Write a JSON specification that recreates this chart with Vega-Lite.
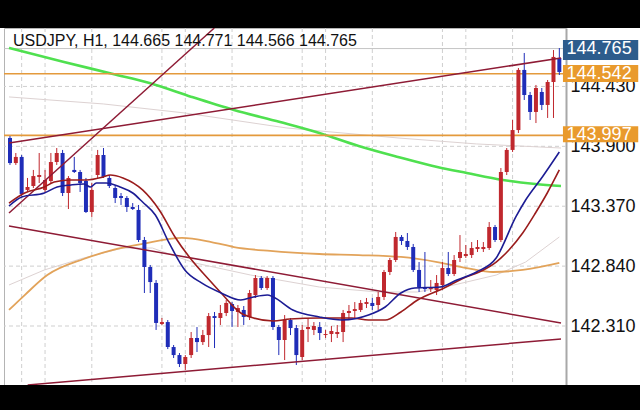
{
  "$schema": "https://vega.github.io/schema/vega-lite/v6.json",
  "width": 562,
  "height": 357,
  "autosize": {"type": "none"},
  "padding": {"left": 4, "right": 74, "top": 28, "bottom": 25},
  "background": "white",
  "view": {"fill": "white", "stroke": "#b4b4b4", "strokeWidth": 1},
  "config": {"font": "Liberation Sans"},
  "resolve": {"scale": {"x": "shared", "y": "shared"}, "axis": {"x": "independent", "y": "independent"}},
  "data": {"values": [{}]},
  "datasets": {
    "k": [
      {"i":0,"o":143.974,"h":143.991,"l":143.735,"c":143.752},
      {"i":1,"o":143.752,"h":143.841,"l":143.735,"c":143.806},
      {"i":2,"o":143.806,"h":143.823,"l":143.460,"c":143.478},
      {"i":3,"o":143.514,"h":143.620,"l":143.496,"c":143.540},
      {"i":4,"o":143.549,"h":143.691,"l":143.531,"c":143.637},
      {"i":5,"o":143.629,"h":143.841,"l":143.575,"c":143.646},
      {"i":6,"o":143.514,"h":143.691,"l":143.496,"c":143.602},
      {"i":7,"o":143.593,"h":143.841,"l":143.575,"c":143.761},
      {"i":8,"o":143.761,"h":143.885,"l":143.735,"c":143.841},
      {"i":9,"o":143.841,"h":143.868,"l":143.460,"c":143.487},
      {"i":10,"o":143.487,"h":143.637,"l":143.345,"c":143.620},
      {"i":11,"o":143.691,"h":143.806,"l":143.664,"c":143.673},
      {"i":12,"o":143.673,"h":143.691,"l":143.496,"c":143.575},
      {"i":13,"o":143.593,"h":143.620,"l":143.310,"c":143.319},
      {"i":14,"o":143.319,"h":143.575,"l":143.275,"c":143.514},
      {"i":15,"o":143.646,"h":143.868,"l":143.620,"c":143.823},
      {"i":16,"o":143.823,"h":143.885,"l":143.620,"c":143.629},
      {"i":17,"o":143.620,"h":143.646,"l":143.531,"c":143.549},
      {"i":18,"o":143.531,"h":143.558,"l":143.398,"c":143.443},
      {"i":19,"o":143.460,"h":143.487,"l":143.381,"c":143.443},
      {"i":20,"o":143.443,"h":143.460,"l":143.319,"c":143.363},
      {"i":21,"o":143.363,"h":143.398,"l":143.337,"c":143.345},
      {"i":22,"o":143.337,"h":143.381,"l":143.053,"c":143.071},
      {"i":23,"o":143.071,"h":143.098,"l":142.602,"c":142.832},
      {"i":24,"o":142.832,"h":142.850,"l":142.602,"c":142.699},
      {"i":25,"o":142.691,"h":142.717,"l":142.275,"c":142.337},
      {"i":26,"o":142.328,"h":142.381,"l":142.319,"c":142.345},
      {"i":27,"o":142.345,"h":142.363,"l":142.106,"c":142.124},
      {"i":28,"o":142.124,"h":142.142,"l":142.027,"c":142.053},
      {"i":29,"o":142.053,"h":142.071,"l":141.947,"c":141.974},
      {"i":30,"o":141.974,"h":142.053,"l":141.921,"c":142.036},
      {"i":31,"o":142.053,"h":142.257,"l":142.027,"c":142.204},
      {"i":32,"o":142.204,"h":142.301,"l":142.080,"c":142.168},
      {"i":33,"o":142.168,"h":142.275,"l":142.142,"c":142.230},
      {"i":34,"o":142.230,"h":142.425,"l":142.124,"c":142.398},
      {"i":35,"o":142.398,"h":142.434,"l":142.115,"c":142.381},
      {"i":36,"o":142.381,"h":142.496,"l":142.319,"c":142.425},
      {"i":37,"o":142.425,"h":142.540,"l":142.398,"c":142.514},
      {"i":38,"o":142.505,"h":142.522,"l":142.301,"c":142.443},
      {"i":39,"o":142.434,"h":142.496,"l":142.301,"c":142.469},
      {"i":40,"o":142.452,"h":142.487,"l":142.319,"c":142.390},
      {"i":41,"o":142.390,"h":142.629,"l":142.363,"c":142.602},
      {"i":42,"o":142.584,"h":142.761,"l":142.558,"c":142.735},
      {"i":43,"o":142.735,"h":142.752,"l":142.629,"c":142.646},
      {"i":44,"o":142.646,"h":142.752,"l":142.629,"c":142.735},
      {"i":45,"o":142.735,"h":142.752,"l":142.275,"c":142.301},
      {"i":46,"o":142.301,"h":142.319,"l":142.053,"c":142.186},
      {"i":47,"o":142.186,"h":142.407,"l":142.009,"c":142.363},
      {"i":48,"o":142.363,"h":142.381,"l":142.230,"c":142.292},
      {"i":49,"o":142.292,"h":142.319,"l":141.965,"c":142.053},
      {"i":50,"o":142.036,"h":142.319,"l":142.009,"c":142.275},
      {"i":51,"o":142.283,"h":142.381,"l":142.168,"c":142.301},
      {"i":52,"o":142.275,"h":142.345,"l":142.230,"c":142.310},
      {"i":53,"o":142.301,"h":142.345,"l":142.186,"c":142.248},
      {"i":54,"o":142.230,"h":142.275,"l":142.204,"c":142.239},
      {"i":55,"o":142.239,"h":142.310,"l":142.168,"c":142.266},
      {"i":56,"o":142.239,"h":142.319,"l":142.204,"c":142.257},
      {"i":57,"o":142.257,"h":142.452,"l":142.168,"c":142.425},
      {"i":58,"o":142.425,"h":142.496,"l":142.363,"c":142.443},
      {"i":59,"o":142.443,"h":142.522,"l":142.381,"c":142.460},
      {"i":60,"o":142.452,"h":142.540,"l":142.434,"c":142.514},
      {"i":61,"o":142.505,"h":142.558,"l":142.469,"c":142.522},
      {"i":62,"o":142.514,"h":142.558,"l":142.452,"c":142.487},
      {"i":63,"o":142.496,"h":142.611,"l":142.452,"c":142.567},
      {"i":64,"o":142.567,"h":142.806,"l":142.540,"c":142.788},
      {"i":65,"o":142.788,"h":142.912,"l":142.761,"c":142.894},
      {"i":66,"o":142.894,"h":143.142,"l":142.876,"c":143.098},
      {"i":67,"o":143.098,"h":143.115,"l":143.027,"c":143.062},
      {"i":68,"o":143.062,"h":143.133,"l":142.983,"c":143.009},
      {"i":69,"o":143.009,"h":143.036,"l":142.788,"c":142.806},
      {"i":70,"o":142.806,"h":142.876,"l":142.611,"c":142.655},
      {"i":71,"o":142.655,"h":142.965,"l":142.611,"c":142.637},
      {"i":72,"o":142.637,"h":142.717,"l":142.611,"c":142.655},
      {"i":73,"o":142.629,"h":142.761,"l":142.584,"c":142.691},
      {"i":74,"o":142.673,"h":142.876,"l":142.629,"c":142.823},
      {"i":75,"o":142.823,"h":142.965,"l":142.752,"c":142.770},
      {"i":76,"o":142.770,"h":142.938,"l":142.752,"c":142.894},
      {"i":77,"o":142.912,"h":143.115,"l":142.876,"c":142.965},
      {"i":78,"o":142.929,"h":143.027,"l":142.912,"c":142.947},
      {"i":79,"o":142.938,"h":143.053,"l":142.912,"c":143.000},
      {"i":80,"o":142.991,"h":143.071,"l":142.965,"c":143.009},
      {"i":81,"o":142.991,"h":143.053,"l":142.965,"c":143.009},
      {"i":82,"o":143.000,"h":143.230,"l":142.983,"c":143.186},
      {"i":83,"o":143.186,"h":143.204,"l":143.053,"c":143.071},
      {"i":84,"o":143.071,"h":143.708,"l":143.053,"c":143.673},
      {"i":85,"o":143.673,"h":143.885,"l":143.646,"c":143.868},
      {"i":86,"o":143.868,"h":144.133,"l":143.850,"c":144.044},
      {"i":87,"o":144.044,"h":144.593,"l":144.018,"c":144.576},
      {"i":88,"o":144.576,"h":144.726,"l":144.310,"c":144.354},
      {"i":89,"o":144.354,"h":144.381,"l":144.133,"c":144.204},
      {"i":90,"o":144.204,"h":144.443,"l":144.106,"c":144.416},
      {"i":91,"o":144.381,"h":144.416,"l":144.221,"c":144.266},
      {"i":92,"o":144.266,"h":144.487,"l":144.151,"c":144.469},
      {"i":93,"o":144.469,"h":144.752,"l":144.151,"c":144.691},
      {"i":94,"o":144.682,"h":144.770,"l":144.531,"c":144.558}
    ],
    "ln": [
      {"s":"blue","x":-0.168,"p":143.372},{"s":"blue","x":2.017,"p":143.452},{"s":"blue","x":5.882,"p":143.487},{"s":"blue","x":8.067,"p":143.540},{"s":"blue","x":10.42,"p":143.558},{"s":"blue","x":12.605,"p":143.567},{"s":"blue","x":13.782,"p":143.540},{"s":"blue","x":14.79,"p":143.575},{"s":"blue","x":16.471,"p":143.575},{"s":"blue","x":18.824,"p":143.540},{"s":"blue","x":21.008,"p":143.487},{"s":"blue","x":22.689,"p":143.407},{"s":"blue","x":24.874,"p":143.292},{"s":"blue","x":27.227,"p":143.045},{"s":"blue","x":29.916,"p":142.806},{"s":"blue","x":32.773,"p":142.691},{"s":"blue","x":36.134,"p":142.602},{"s":"blue","x":39.496,"p":142.540},{"s":"blue","x":41.681,"p":142.567},{"s":"blue","x":44.034,"p":142.584},{"s":"blue","x":45.042,"p":142.567},{"s":"blue","x":48.403,"p":142.452},{"s":"blue","x":52.941,"p":142.390},{"s":"blue","x":56.807,"p":142.363},{"s":"blue","x":61.345,"p":142.407},{"s":"blue","x":64.202,"p":142.478},{"s":"blue","x":66.891,"p":142.602},{"s":"blue","x":69.244,"p":142.646},{"s":"blue","x":73.613,"p":142.655},{"s":"blue","x":76.471,"p":142.717},{"s":"blue","x":79.832,"p":142.788},{"s":"blue","x":83.193,"p":142.912},{"s":"blue","x":86.555,"p":143.275},{"s":"blue","x":88.235,"p":143.425},{"s":"blue","x":91.092,"p":143.629},{"s":"blue","x":94,"p":143.850},
      {"s":"red","x":-0.168,"p":143.398},{"s":"red","x":2.521,"p":143.487},{"s":"red","x":5.882,"p":143.540},{"s":"red","x":7.563,"p":143.584},{"s":"red","x":10.42,"p":143.602},{"s":"red","x":13.109,"p":143.602},{"s":"red","x":15.966,"p":143.629},{"s":"red","x":17.143,"p":143.646},{"s":"red","x":19.328,"p":143.620},{"s":"red","x":22.689,"p":143.514},{"s":"red","x":25.546,"p":143.337},{"s":"red","x":28.235,"p":143.098},{"s":"red","x":31.092,"p":142.894},{"s":"red","x":33.95,"p":142.726},{"s":"red","x":36.134,"p":142.602},{"s":"red","x":39.496,"p":142.425},{"s":"red","x":41.681,"p":142.381},{"s":"red","x":45.042,"p":142.354},{"s":"red","x":47.899,"p":142.372},{"s":"red","x":52.941,"p":142.381},{"s":"red","x":58.487,"p":142.381},{"s":"red","x":61.345,"p":142.363},{"s":"red","x":64.202,"p":142.363},{"s":"red","x":66.891,"p":142.434},{"s":"red","x":69.748,"p":142.540},{"s":"red","x":74.286,"p":142.646},{"s":"red","x":77.647,"p":142.735},{"s":"red","x":81.008,"p":142.806},{"s":"red","x":83.193,"p":142.876},{"s":"red","x":85.378,"p":142.983},{"s":"red","x":87.731,"p":143.133},{"s":"red","x":89.916,"p":143.310},{"s":"red","x":91.933,"p":143.487},{"s":"red","x":94,"p":143.691},
      {"s":"orange","x":-0.168,"p":142.452},{"s":"orange","x":2.521,"p":142.584},{"s":"orange","x":6.387,"p":142.761},{"s":"orange","x":12.605,"p":142.903},{"s":"orange","x":17.647,"p":142.983},{"s":"orange","x":22.689,"p":143.036},{"s":"orange","x":29.412,"p":143.089},{"s":"orange","x":34.454,"p":143.053},{"s":"orange","x":38.319,"p":143.009},{"s":"orange","x":44.538,"p":142.974},{"s":"orange","x":52.941,"p":142.947},{"s":"orange","x":59.664,"p":142.938},{"s":"orange","x":66.891,"p":142.921},{"s":"orange","x":73.109,"p":142.876},{"s":"orange","x":78.151,"p":142.823},{"s":"orange","x":82.689,"p":142.788},{"s":"orange","x":87.731,"p":142.806},{"s":"orange","x":94,"p":142.868},
      {"s":"green","x":-0.168,"p":144.770},{"s":"green","x":9.244,"p":144.646},{"s":"green","x":17.647,"p":144.540},{"s":"green","x":23.866,"p":144.460},{"s":"green","x":31.092,"p":144.337},{"s":"green","x":38.319,"p":144.222},{"s":"green","x":46.218,"p":144.115},{"s":"green","x":52.941,"p":144.018},{"s":"green","x":59.664,"p":143.903},{"s":"green","x":66.387,"p":143.806},{"s":"green","x":73.109,"p":143.717},{"s":"green","x":78.151,"p":143.664},{"s":"green","x":84.37,"p":143.602},{"s":"green","x":89.916,"p":143.567},{"s":"green","x":94.286,"p":143.549},
      {"s":"gray1","x":-0.168,"p":144.337},{"s":"gray1","x":15.966,"p":144.275},{"s":"gray1","x":29.916,"p":144.195},{"s":"gray1","x":47.395,"p":144.062},{"s":"gray1","x":66.387,"p":143.974},{"s":"gray1","x":79.832,"p":143.921},{"s":"gray1","x":94.286,"p":143.885},
      {"s":"gray2","x":-0.168,"p":142.673},{"s":"gray2","x":5.882,"p":142.806},{"s":"gray2","x":12.605,"p":142.912},{"s":"gray2","x":19.328,"p":143.000},{"s":"gray2","x":24.37,"p":143.000},{"s":"gray2","x":31.597,"p":142.868},{"s":"gray2","x":41.176,"p":142.761},{"s":"gray2","x":52.941,"p":142.655},{"s":"gray2","x":63.025,"p":142.611},{"s":"gray2","x":69.748,"p":142.611},{"s":"gray2","x":75.966,"p":142.673},{"s":"gray2","x":83.193,"p":142.761},{"s":"gray2","x":88.235,"p":142.876},{"s":"gray2","x":94,"p":143.098},
      {"s":"tA","x":-0.168,"p":143.310},{"s":"tA","x":34.958,"p":144.947},
      {"s":"tB","x":-0.168,"p":143.929},{"s":"tB","x":94.286,"p":144.682},
      {"s":"tC","x":-0.168,"p":143.195},{"s":"tC","x":94.286,"p":142.337},
      {"s":"tD","x":3.025,"p":141.788},{"s":"tD","x":94.286,"p":142.195}
    ],
    "lvl": [{"v":144.542},{"v":143.997}],
    "vg": [{"g":2},{"g":6},{"g":14},{"g":26},{"g":30},{"g":38},{"g":50},{"g":54},{"g":62},{"g":74},{"g":78},{"g":86}],
    "hg": [{"v":142.31},{"v":142.84},{"v":143.37},{"v":143.9},{"v":144.43}],
    "lab": [
      {"t":"144.765","v":144.765,"lo":144.664,"hi":144.841,"k":"cur"},
      {"t":"144.542","v":144.542,"lo":144.469,"hi":144.620,"k":"lvl"},
      {"t":"143.997","v":143.997,"lo":143.936,"hi":144.077,"k":"lvl"}
    ],
    "band": [{"a":144.947,"b":145.5},{"a":141.2,"b":141.788}]
  },
  "layer": [
    {
      "data": {"name": "hg"},
      "mark": {"type": "rule", "stroke": "#cfcfcf", "strokeDash": [4, 3], "strokeWidth": 1},
      "encoding": {
        "y": {"field": "v", "type": "quantitative",
              "scale": {"domain": [141.788, 144.947], "nice": false, "zero": false},
              "axis": {"orient": "right", "title": null, "values": [142.31, 142.84, 143.37, 143.9, 144.43], "format": ".3f",
                       "labelFontSize": 18, "labelColor": "#111", "labelPadding": 4, "ticks": false, "grid": false,
                       "domainColor": "#a8a8a8", "domainWidth": 2, "labelOverlap": false, "labelFlush": false, "labelBound": false}}
      }
    },
    {
      "data": {"name": "vg"},
      "mark": {"type": "rule", "stroke": "#cfcfcf", "strokeDash": [4, 3], "strokeWidth": 1},
      "encoding": {"x": {"field": "g", "type": "quantitative", "scale": {"domain": [-0.168, 94.286], "nice": false, "zero": false}, "axis": null}}
    },
    {
      "mark": {"type": "rule", "stroke": "#c4c4c4", "strokeWidth": 1},
      "encoding": {"y": {"datum": 144.765, "type": "quantitative", "axis": null}}
    },
    {
      "data": {"name": "ln"},
      "transform": [{"filter": "datum.s === 'gray1' || datum.s === 'gray2'"}],
      "mark": {"type": "line", "stroke": "#ddd2d2", "strokeWidth": 1},
      "encoding": {"x": {"field": "x", "type": "quantitative", "axis": null}, "y": {"field": "p", "type": "quantitative", "axis": null}, "detail": {"field": "s"}}
    },
    {
      "data": {"name": "ln"},
      "transform": [{"filter": "datum.s === 'orange'"}],
      "mark": {"type": "line", "stroke": "#e2a35a", "strokeWidth": 1.8, "interpolate": "monotone"},
      "encoding": {"x": {"field": "x", "type": "quantitative", "axis": null}, "y": {"field": "p", "type": "quantitative", "axis": null}}
    },
    {
      "data": {"name": "ln"},
      "transform": [{"filter": "datum.s === 'green'"}],
      "mark": {"type": "line", "stroke": "#4fe04f", "strokeWidth": 2.6, "interpolate": "monotone"},
      "encoding": {"x": {"field": "x", "type": "quantitative", "axis": null}, "y": {"field": "p", "type": "quantitative", "axis": null}}
    },
    {
      "data": {"name": "lvl"},
      "mark": {"type": "rule", "stroke": "#e49a3c", "strokeWidth": 1.6},
      "encoding": {"y": {"field": "v", "type": "quantitative", "axis": null}}
    },
    {
      "data": {"name": "k"},
      "mark": {"type": "rule", "strokeWidth": 1},
      "encoding": {
        "x": {"field": "i", "type": "quantitative", "axis": null},
        "y": {"field": "l", "type": "quantitative", "axis": null},
        "y2": {"field": "h"},
        "color": {"condition": {"test": "datum.c >= datum.o", "value": "#c0282e"}, "value": "#1f2db8"}
      }
    },
    {
      "data": {"name": "k"},
      "mark": {"type": "bar", "width": 4},
      "encoding": {
        "x": {"field": "i", "type": "quantitative", "axis": null},
        "y": {"field": "o", "type": "quantitative", "axis": null},
        "y2": {"field": "c"},
        "color": {"condition": {"test": "datum.c >= datum.o", "value": "#c0282e"}, "value": "#1f2db8"}
      }
    },
    {
      "data": {"name": "ln"},
      "transform": [{"filter": "datum.s === 'tA' || datum.s === 'tB' || datum.s === 'tC' || datum.s === 'tD'"}],
      "mark": {"type": "line", "stroke": "#8e1b35", "strokeWidth": 1.5},
      "encoding": {"x": {"field": "x", "type": "quantitative", "axis": null}, "y": {"field": "p", "type": "quantitative", "axis": null}, "detail": {"field": "s"}}
    },
    {
      "data": {"name": "ln"},
      "transform": [{"filter": "datum.s === 'red'"}],
      "mark": {"type": "line", "stroke": "#9a1c1c", "strokeWidth": 1.6, "interpolate": "monotone"},
      "encoding": {"x": {"field": "x", "type": "quantitative", "axis": null}, "y": {"field": "p", "type": "quantitative", "axis": null}}
    },
    {
      "data": {"name": "ln"},
      "transform": [{"filter": "datum.s === 'blue'"}],
      "mark": {"type": "line", "stroke": "#1c1c94", "strokeWidth": 1.6, "interpolate": "monotone"},
      "encoding": {"x": {"field": "x", "type": "quantitative", "axis": null}, "y": {"field": "p", "type": "quantitative", "axis": null}}
    },
    {
      "data": {"name": "lab"},
      "mark": {"type": "rect"},
      "encoding": {
        "x": {"datum": 94.62, "type": "quantitative", "axis": null},
        "x2": {"datum": 107.5},
        "y": {"field": "lo", "type": "quantitative", "axis": null},
        "y2": {"field": "hi"},
        "color": {"condition": {"test": "datum.k === 'cur'", "value": "#2d5c8c"}, "value": "#e99a2c"}
      }
    },
    {
      "data": {"name": "lab"},
      "mark": {"type": "text", "align": "left", "baseline": "middle", "fontSize": 18, "color": "white"},
      "encoding": {
        "x": {"datum": 95.24, "type": "quantitative", "axis": null},
        "y": {"field": "v", "type": "quantitative", "axis": null},
        "text": {"field": "t"}
      }
    },
    {
      "mark": {"type": "text", "align": "left", "baseline": "alphabetic", "fontSize": 16, "color": "#111"},
      "encoding": {
        "x": {"datum": 0.504, "type": "quantitative", "axis": null},
        "y": {"datum": 144.788, "type": "quantitative", "axis": null},
        "text": {"value": "USDJPY, H1, 144.665 144.771 144.566 144.765"}
      }
    },
    {
      "data": {"name": "band"},
      "mark": {"type": "rect", "color": "black"},
      "encoding": {
        "x": {"datum": -2, "type": "quantitative", "axis": null},
        "x2": {"datum": 110},
        "y": {"field": "a", "type": "quantitative", "axis": null},
        "y2": {"field": "b"}
      }
    }
  ]
}
